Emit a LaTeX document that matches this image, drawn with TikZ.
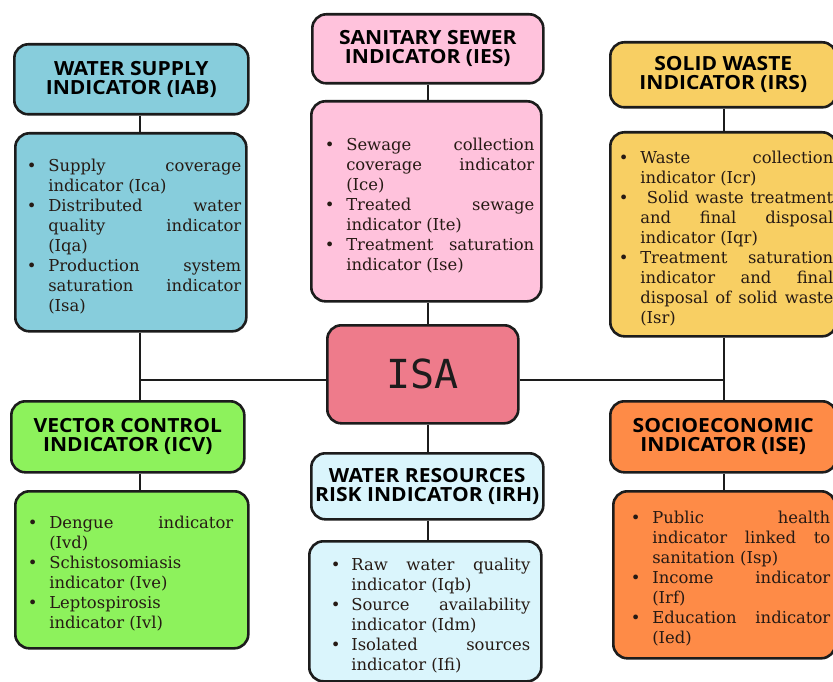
\documentclass[tikz,border=0pt]{standalone}
\usepackage{fontspec}
\setmainfont{DejaVu Serif}
\newfontfamily\hdfont{Open Sans}[FakeStretch=1.08]
\newfontfamily\isafont{DejaVu Sans Mono}
\definecolor{cws}{HTML}{87CDDC}
\definecolor{cse}{HTML}{FFC2DC}
\definecolor{cso}{HTML}{F8CF63}
\definecolor{cisa}{HTML}{EE7B8B}
\definecolor{cvc}{HTML}{8DF25C}
\definecolor{cwr}{HTML}{DAF5FC}
\definecolor{cse2}{HTML}{FE8B47}
\definecolor{ink}{HTML}{1C1C1C}
\definecolor{txt}{HTML}{261A14}
\newenvironment{blist}[3]{\begin{list}{\makebox[0pt][l]{\textbullet}}{%
  \setlength{\leftmargin}{#1}\setlength{\labelwidth}{0pt}\setlength{\labelsep}{#2}%
  \setlength{\rightmargin}{#3}\setlength{\topsep}{0pt}\setlength{\partopsep}{0pt}%
  \setlength{\itemsep}{0pt}\setlength{\parsep}{0pt}\setlength{\itemindent}{0pt}%
  \setlength{\listparindent}{0pt}}\tolerance=9999\hbadness=10000\hyphenpenalty=10000}{\end{list}}
\begin{document}
\begin{tikzpicture}[x=1pt,y=-1pt,
  box/.style={draw=ink, line width=2.6pt, rounded corners=14pt, inner sep=0pt, anchor=north west},
  head/.style={box, align=center, text=black, font=\hdfont\bfseries\fontsize{19.5}{19}\selectfont},
  body/.style={box, align=justify, text=txt, font=\fontsize{16.4}{20}\selectfont},
  link/.style={draw=ink, line width=2.6pt}]
\useasboundingbox (0,0) rectangle (833,682);
% headers
\node[head, fill=cws, minimum width=234pt, minimum height=70pt] (wsh) at (13,43) {WATER SUPPLY\\INDICATOR (IAB)};
\node[head, fill=cse, minimum width=231pt, minimum height=69pt] (seh) at (311,13) {SANITARY SEWER\\INDICATOR (IES)};
\node[head, fill=cso, minimum width=226pt, minimum height=65pt] (soh) at (609,41) {SOLID WASTE\\INDICATOR (IRS)};
\node[head, fill=cvc, minimum width=233pt, minimum height=71pt] (vch) at (10,400) {VECTOR CONTROL\\INDICATOR (ICV)};
\node[head, fill=cwr, minimum width=232pt, minimum height=66pt] (wrh) at (310,452) {WATER RESOURCES\\RISK INDICATOR (IRH)};
\node[head, fill=cse2, minimum width=226pt, minimum height=71pt] (seh2) at (609,400) {SOCIOECONOMIC\\INDICATOR (ISE)};
% centre
\node[box, fill=cisa, minimum width=191pt, minimum height=98pt, text=ink, font=\isafont\fontsize{40}{40}\selectfont] (isa) at (326,324) {ISA};
% bodies
\node[body, fill=cws, text width=231pt, minimum height=198pt] (wsb) at (14,132) {%
\begin{blist}{33pt}{21.5pt}{5pt}
\item Supply coverage\linebreak indicator (Ica)
\item Distributed water\linebreak quality indicator\linebreak (Iqa)
\item Production system\linebreak saturation indicator\linebreak (Isa)
\end{blist}};
\node[body, fill=cse, text width=230pt, minimum height=200pt] (seb) at (310,100) {%
\begin{blist}{35pt}{21.5pt}{7pt}
\item Sewage collection\linebreak coverage indicator\linebreak (Ice)
\item Treated sewage\linebreak indicator (Ite)
\item Treatment saturation\linebreak indicator (Ise)
\end{blist}};
\node[body, fill=cso, text width=226pt, minimum height=204pt] (sob) at (609,131) {%
\begin{blist}{30pt}{21.5pt}{3pt}
\item Waste collection\linebreak indicator (Icr)
\item \ Solid waste treatment\linebreak and final disposal\linebreak indicator (Iqr)
\item Treatment saturation\linebreak indicator and final\linebreak disposal of solid waste\linebreak (Isr)
\end{blist}};
\node[body, fill=cvc, text width=233pt, minimum height=157pt] (vcb) at (14,490) {%
\begin{blist}{34pt}{21.5pt}{15pt}
\item Dengue indicator\linebreak (Ivd)
\item Schistosomiasis\newline indicator (Ive)
\item Leptospirosis\newline indicator (Ivl)
\end{blist}};
\node[body, fill=cwr, text width=232pt, minimum height=140pt] (wrb) at (308,540) {%
\begin{blist}{42pt}{20.5pt}{11pt}
\item Raw water quality\linebreak indicator (Iqb)
\item Source availability\linebreak indicator (Idm)
\item Isolated sources\linebreak indicator (Ifi)
\end{blist}};
\node[body, fill=cse2, text width=222pt, minimum height=167pt] (sebb) at (612,490) {%
\begin{blist}{39pt}{21.5pt}{5pt}
\item Public health\linebreak indicator linked to\linebreak sanitation (Isp)
\item Income indicator\linebreak (Irf)
\item Education indicator\linebreak (Ied)
\end{blist}};
% connector guides
\coordinate (cl) at (140,380);
\coordinate (cm) at (428,380);
\coordinate (cr) at (724,380);
\draw[link] (wsh.south -| cl) -- (wsb.north -| cl);
\draw[link] (wsb.south -| cl) -- (vch.north -| cl);
\draw[link] (vch.south -| cl) -- (vcb.north -| cl);
\draw[link] (seh.south -| cm) -- (seb.north -| cm);
\draw[link] (seb.south -| cm) -- (isa.north -| cm);
\draw[link] (isa.south -| cm) -- (wrh.north -| cm);
\draw[link] (wrh.south -| cm) -- (wrb.north -| cm);
\draw[link] (soh.south -| cr) -- (sob.north -| cr);
\draw[link] (sob.south -| cr) -- (seh2.north -| cr);
\draw[link] (seh2.south -| cr) -- (sebb.north -| cr);
\draw[link] (cl) -- (isa.west |- cl);
\draw[link] (isa.east |- cr) -- (cr);
\end{tikzpicture}
\end{document}
